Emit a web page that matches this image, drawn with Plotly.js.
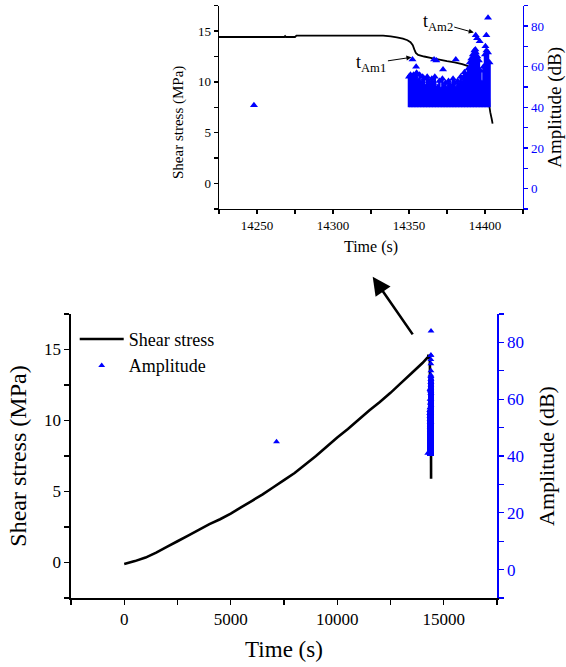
<!DOCTYPE html>
<html>
<head>
<meta charset="utf-8">
<script src="https://cdn.plot.ly/plotly-3.0.1.min.js"></script>
<style>html,body{margin:0;padding:0;background:#fff;}#chart{width:566px;height:667px;}</style>
</head>
<body>
<div id="chart"></div>
<script>
// ---- Shear stress record (time in s, stress in MPa) ----
const stressTime = [0,500,1000,1500,2000,2500,3000,3500,4000,4500,5000,5500,6000,6500,7000,7500,8000,8500,9000,9500,10000,10500,11000,11500,12000,12500,13000,13500,14000,14225,14268,14268.5,14269,14275,14276,14333,14338,14342,14346,14349,14351,14352.5,14353.5,14354.5,14356,14360,14365,14370,14375,14380,14385,14388,14391,14395,14400,14402,14403,14403.5,14404.5,14405];
const stressMPa = [-0.1,0.1,0.35,0.7,1.1,1.5,1.9,2.3,2.7,3.05,3.45,3.9,4.35,4.8,5.3,5.8,6.3,6.9,7.5,8.15,8.8,9.4,10.05,10.7,11.3,11.95,12.65,13.35,14.05,14.42,14.42,14.5,14.42,14.42,14.55,14.55,14.48,14.38,14.25,14.1,13.9,13.6,13.2,12.85,12.65,12.5,12.35,12.2,12.05,11.92,11.75,11.6,11.4,11.2,11.0,10.8,7.5,7.0,6.3,5.9];

// ---- AE burst: dense hits, peak amplitude per second (dB) ----
const burstTime = [14350,14351,14352,14353,14354,14355,14356,14357,14358,14359,14360,14361,14362,14363,14364,14365,14366,14367,14368,14369,14370,14371,14372,14373,14374,14375,14376,14377,14378,14379,14380,14381,14382,14383,14384,14385,14386,14387,14388,14389,14390,14391,14392,14393,14394,14395,14396,14397,14398,14399,14400,14401,14402,14403];
const burstAmp = [55,56,54,56,55,57,53,56,52,55,54,50,55,53,51,54,52,55,49,50,53,48,54,50,52,49,53,51,50,54,52,49,53,51,55,52,54,56,55,59,62,64,66,68,67,65,63,58,52,60,66,68,67,62];
const aeThreshold = 40;

// ---- AE individual hits (time s, amplitude dB) ----
const hitTime = [7150,14248,14352.3,14354.7,14366.5,14368,14372.4,14380.8,14386.5,14393.7,14393.9,14394.8,14396.5,14400.3,14400.9,14402];
const hitAmp  = [45,41,63.5,60,63.5,63,58.6,63.5,57.3,68.5,75.5,74,72.5,70,75.5,84];

// ---- Tick settings ----
const stressTicks = [0,5,10,15];
const ampTicks = [0,20,40,60,80];
const mainTimeTicks = [0,5000,10000,15000];
const insetTimeTicks = [14250,14300,14350,14400];

const FONT = 'Liberation Serif';
const BLUE = '#0000ff';
const below = burstAmp.map(a => a - aeThreshold);
const zeros = burstAmp.map(() => 0);

const traces = [
  // main chart
  {x: stressTime, y: stressMPa, xaxis:'x', yaxis:'y', type:'scatter', mode:'lines',
   name:'Shear stress', line:{color:'#000', width:2.6, simplify:false}, legendgroup:'s'},
  {x: hitTime, y: hitAmp, xaxis:'x', yaxis:'y2', type:'scatter', mode:'markers',
   name:'Amplitude', marker:{symbol:'triangle-up', color:BLUE, size:6}, legendgroup:'a'},
  {x: burstTime, y: burstAmp, xaxis:'x', yaxis:'y2', type:'scatter', mode:'markers',
   name:'Amplitude', showlegend:false, legendgroup:'a',
   marker:{symbol:'triangle-up', color:BLUE, size:6},
   error_y:{type:'data', symmetric:false, array:zeros, arrayminus:below, color:BLUE, thickness:5, width:0}},
  // inset chart
  {x: stressTime, y: stressMPa, xaxis:'x2', yaxis:'y3', type:'scatter', mode:'lines',
   name:'Shear stress', showlegend:false, line:{color:'#000', width:1.8, simplify:false}},
  {x: burstTime, y: burstAmp, xaxis:'x2', yaxis:'y4', type:'scatter', mode:'markers',
   name:'Amplitude', showlegend:false,
   marker:{symbol:'triangle-up', color:BLUE, size:7},
   error_y:{type:'data', symmetric:false, array:zeros, arrayminus:below, color:BLUE, thickness:2.5, width:0}},
  {x: hitTime, y: hitAmp, xaxis:'x2', yaxis:'y4', type:'scatter', mode:'markers',
   name:'Amplitude', showlegend:false, marker:{symbol:'triangle-up', color:BLUE, size:7}}
];

function axBase(extra){
  return Object.assign({showgrid:false, zeroline:false, showline:true, linecolor:'#000', linewidth:1.5,
    ticks:'outside', ticklen:5, tickwidth:1.3, tickcolor:'#000', mirror:false, fixedrange:true,
    exponentformat:'none', separatethousands:false}, extra);
}

const layout = {
  width:566, height:667, margin:{l:0,r:0,t:0,b:0},
  paper_bgcolor:'#fff', plot_bgcolor:'rgba(0,0,0,0)',
  font:{family:FONT, color:'#000'},
  showlegend:true,
  legend:{x:0.132, y:0.519, xanchor:'left', yanchor:'top', bgcolor:'rgba(0,0,0,0)', borderwidth:0,
          font:{family:FONT, size:18, color:'#000'}, itemwidth:44, tracegroupgap:0},
  xaxis: axBase({domain:[0.1254,0.8781], range:[-2500,17500], anchor:'y',
    tickmode:'array', tickvals:mainTimeTicks, ticktext:mainTimeTicks.map(String),
    minor:{tickvals:[-2500,2500,7500,12500,17500], ticks:'outside', ticklen:5, tickcolor:'#000'},
    tickfont:{size:17, family:FONT}, title:{text:'Time (s)', font:{size:23, family:FONT}, standoff:13}}),
  yaxis: axBase({domain:[0.1034,0.5292], range:[-2.5,17.5], anchor:'x',
    tickmode:'array', tickvals:stressTicks, ticktext:stressTicks.map(String),
    minor:{tickvals:[-2.5,2.5,7.5,12.5,17.5], ticks:'outside', ticklen:5, tickcolor:'#000'},
    tickfont:{size:17, family:FONT}, title:{text:'Shear stress (MPa)', font:{size:24, family:FONT}, standoff:10}}),
  yaxis2: axBase({overlaying:'y', side:'right', anchor:'x', range:[-10,90],
    tickmode:'array', tickvals:ampTicks, ticktext:ampTicks.map(String), linecolor:BLUE, tickcolor:BLUE,
    minor:{tickvals:[-10,10,30,50,70,90], ticks:'outside', ticklen:5, tickcolor:BLUE},
    tickfont:{size:17, family:FONT, color:BLUE}, title:{text:'Amplitude (dB)', font:{size:22, family:FONT, color:'#000'}, standoff:15}}),
  xaxis2: axBase({domain:[0.3869,0.9240], range:[14225,14425], anchor:'y3',
    tickmode:'array', tickvals:insetTimeTicks, ticktext:insetTimeTicks.map(String), linewidth:1.3,
    minor:{tickvals:[14225,14275,14325,14375,14425], ticks:'outside', ticklen:4, tickcolor:'#000'},
    ticklen:4, tickfont:{size:13, family:FONT}, title:{text:'Time (s)', font:{size:16, family:FONT}, standoff:9}}),
  yaxis3: axBase({domain:[0.6867,0.9915], range:[-2.5,17.5], anchor:'x2', linewidth:1.3,
    tickmode:'array', tickvals:stressTicks, ticktext:stressTicks.map(String), ticklen:4,
    minor:{tickvals:[-2.5,2.5,7.5,12.5,17.5], ticks:'outside', ticklen:4, tickcolor:'#000'},
    tickfont:{size:13, family:FONT}}),
  yaxis4: axBase({overlaying:'y3', side:'right', anchor:'x2', range:[-10,90], linewidth:1.3,
    tickmode:'array', tickvals:ampTicks, ticktext:ampTicks.map(String), linecolor:BLUE, tickcolor:BLUE, ticklen:4,
    minor:{tickvals:[-10,10,30,50,70,90], ticks:'outside', ticklen:4, tickcolor:BLUE},
    tickfont:{size:13, family:FONT, color:BLUE}, title:{text:'Amplitude (dB)', font:{size:19, family:FONT, color:'#000'}, standoff:11}}),
  annotations:[
    {xref:'paper', yref:'paper', x:178/566, y:1-123/667, text:'Shear stress (MPa)', textangle:-90,
     showarrow:false, font:{size:15, family:FONT, color:'#000'}, xanchor:'center', yanchor:'middle'},
    {xref:'x2', yref:'y4', x:14351.6, y:64.6, text:'t<sub>Am1</sub>', showarrow:true,
     ax:-40, ay:6, arrowhead:2, arrowsize:1, arrowwidth:1, arrowcolor:'#000',
     font:{size:18, family:FONT, color:'#000'}},
    {xref:'x2', yref:'y4', x:14392.6, y:76.8, text:'t<sub>Am2</sub>', showarrow:true,
     ax:-36, ay:-10, arrowhead:2, arrowsize:1, arrowwidth:1, arrowcolor:'#000',
     font:{size:18, family:FONT, color:'#000'}},
    {xref:'paper', yref:'paper', x:372.7/566, y:1-276.7/667, text:' ', showarrow:true,
     ax:43, ay:62, arrowhead:2, arrowsize:1.4, arrowwidth:2.6, arrowcolor:'#000'}
  ]
};

Plotly.newPlot('chart', traces, layout, {staticPlot:true, displayModeBar:false});
</script>
</body>
</html>
